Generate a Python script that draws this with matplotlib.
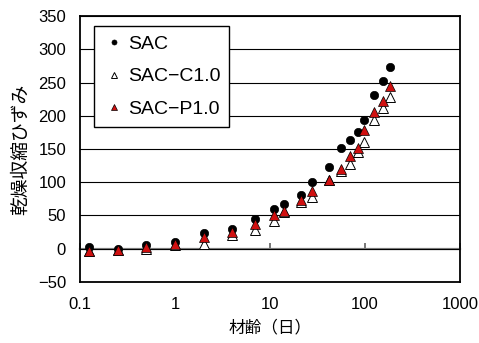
import matplotlib
matplotlib.use('Agg')
import matplotlib.pyplot as plt
from matplotlib.ticker import FixedLocator, NullLocator, NullFormatter

plt.rcParams['font.family'] = ['Liberation Sans', 'Noto Sans CJK JP', 'DejaVu Sans']

# Age (days) and drying shrinkage strain
age = [0.125, 0.25, 0.5, 1, 2, 4, 7, 11, 14, 21, 28, 42, 56, 70, 84, 98, 126, 154, 182]
sac = [3, -1, 5, 10, 23, 30, 45, 60, 68, 81, 100, 123, 151, 163, 176, 194, 231, 252, 273]
sac_c = [-3, -2, 0, 5, 7, 21, 28, 42, 55, 70, 78, 103, 117, 128, 146, 160, 194, 211, 228]
sac_p = [-3, -2, 2.5, 7, 17, 25, 37, 50, 57, 74, 87, 104, 120, 140, 152, 179, 206, 223, 245]

labels = ['SAC', 'SAC\u2212C1.0', 'SAC\u2212P1.0']
xticks = [0.1, 1, 10, 100, 1000]
yticks = list(range(-50, 351, 50))

fig = plt.figure(figsize=(4.79, 3.43), dpi=100)
ax = fig.add_axes([0.167, 0.178, 0.793, 0.775])

ax.plot(age, sac, 'o', ms=6, mfc='black', mec='black', mew=0.5, label=labels[0], zorder=3)
ax.plot(age, sac_c, '^', ms=6.5, mfc='white', mec='black', mew=0.7, label=labels[1], zorder=4)
ax.plot(age, sac_p, '^', ms=6.5, mfc='#d01010', mec='black', mew=0.5, label=labels[2], zorder=5)

ax.set_xscale('log')
ax.set_xlim(0.1, 1000)
ax.set_ylim(-50, 350)
ax.xaxis.set_major_locator(FixedLocator(xticks))
ax.xaxis.set_minor_locator(NullLocator())
ax.set_xticklabels(['0.1', '1', '10', '100', '1000'])
ax.set_yticks(yticks)
ax.set_yticklabels([str(v).replace('-', '\u2212') for v in yticks])
ax.tick_params(axis='both', length=0, labelsize=12)
ax.tick_params(axis='y', pad=10)
ax.tick_params(axis='x', pad=11)

ax.grid(axis='y', color='black', linewidth=0.8)
ax.set_axisbelow(True)
for s in ax.spines.values():
    s.set_linewidth(1.3)
    s.set_color('black')

# zero line with small tick marks (x axis crossing at 0)
zero_frac = (0 - (-50)) / 400
sec = ax.secondary_xaxis(zero_frac)
sec.spines['bottom'].set_color('#808080')
sec.spines['bottom'].set_linewidth(1.6)
sec.xaxis.set_major_locator(FixedLocator(xticks))
sec.xaxis.set_minor_locator(NullLocator())
sec.xaxis.set_major_formatter(NullFormatter())
sec.tick_params(axis='x', direction='in', length=4, width=1.2, color='#606060')

ax.set_ylabel('乾燥収縮ひずみ', fontsize=13.5, labelpad=6)
ax.set_xlabel('材齢（日）', fontsize=12, labelpad=5)

leg = ax.legend(loc='upper left', bbox_to_anchor=(0.037, 0.962), fontsize=14,
                markerscale=0.6, frameon=True, fancybox=False, framealpha=1,
                edgecolor='black', handlelength=1.2, handletextpad=0.1,
                labelspacing=0.78, borderpad=0.45, borderaxespad=0)
leg.get_frame().set_linewidth(1.0)

fig.savefig('out.png', dpi=100)
